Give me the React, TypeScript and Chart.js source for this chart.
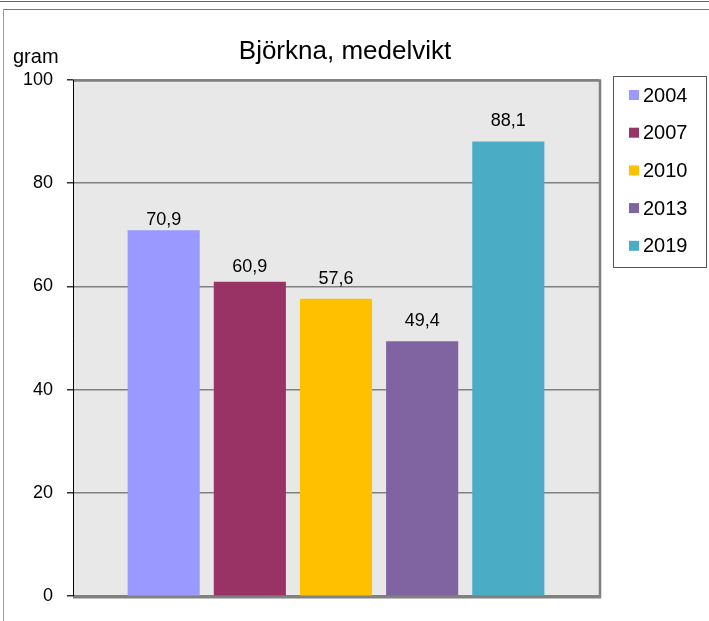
import React, { useEffect, useRef } from "react";
import { Chart, registerables } from "chart.js";

Chart.register(...registerables);

const title = "Björkna, medelvikt";
const yAxisUnit = "gram";
const seriesLabels = ["2004", "2007", "2010", "2013", "2019"];
const seriesValues = [70.9, 60.9, 57.6, 49.4, 88.1];
const seriesColors = ["#9999FF", "#993366", "#FFC000", "#8064A2", "#4BACC6"];
const categories = [""];
const yTicks = [0, 20, 40, 60, 80, 100];

const FONT = '"Liberation Sans", Arial, sans-serif';
const labelGaps = [5, 10, 15, 15, 15];

const decorPlugin = {
  id: "decor",
  beforeDraw(chart: any) {
    const { ctx, chartArea: a } = chart;
    ctx.save();
    ctx.fillStyle = "#E8E8E8";
    ctx.fillRect(a.left, a.top, a.right - a.left, a.bottom - a.top);
    ctx.restore();
  },
  afterDatasetsDraw(chart: any) {
    const { ctx, chartArea: a } = chart;
    ctx.save();
    ctx.strokeStyle = "#808080";
    ctx.lineWidth = 2.5;
    ctx.beginPath();
    ctx.moveTo(a.left, a.top + 0.5);
    ctx.lineTo(a.right + 1, a.top + 0.5);
    ctx.lineTo(a.right + 1, a.bottom + 1);
    ctx.lineTo(a.left, a.bottom + 1);
    ctx.stroke();
    ctx.strokeStyle = "#000";
    ctx.lineWidth = 1;
    ctx.beginPath();
    ctx.moveTo(a.left + 0.5, a.top);
    ctx.lineTo(a.left + 0.5, a.bottom);
    ctx.stroke();

    ctx.fillStyle = "#000";
    ctx.font = `18px ${FONT}`;
    ctx.textAlign = "center";
    ctx.textBaseline = "alphabetic";
    chart.data.datasets.forEach((ds: any, i: number) => {
      const meta = chart.getDatasetMeta(i);
      meta.data.forEach((el: any, j: number) => {
        const v = ds.data[j];
        const txt = String(v).replace(".", ",");
        ctx.fillText(txt, el.x, el.y - labelGaps[i]);
      });
    });

    ctx.font = `26px ${FONT}`;
    ctx.textAlign = "center";
    ctx.fillText(title, 345, 59);
    ctx.font = `20px ${FONT}`;
    ctx.textAlign = "left";
    ctx.fillText(yAxisUnit, 13, 63);

    const lx = 613, ly = 76, lw = 93, lh = 191;
    ctx.strokeStyle = "#555";
    ctx.lineWidth = 1;
    ctx.strokeRect(lx + 0.5, ly + 0.5, lw, lh);
    ctx.font = `20px ${FONT}`;
    ctx.textBaseline = "middle";
    seriesLabels.forEach((lab, i) => {
      const cy = 95 + i * 37.7;
      ctx.fillStyle = seriesColors[i];
      ctx.fillRect(629, cy - 5, 10, 10);
      ctx.fillStyle = "#000";
      ctx.fillText(lab, 643, cy + 1);
    });
    ctx.restore();
  },
};

export default function App() {
  const ref = useRef<HTMLCanvasElement>(null);
  useEffect(() => {
    if (!ref.current) return;
    const chart = new Chart(ref.current, {
      type: "bar",
      data: {
        labels: categories,
        datasets: seriesLabels.map((lab, i) => ({
          label: lab,
          data: [seriesValues[i]],
          backgroundColor: seriesColors[i],
          borderWidth: 0,
          categoryPercentage: 0.819,
          barPercentage: 0.837,
        })),
      },
      options: {
        animation: false,
        responsive: false,
        maintainAspectRatio: false,
        devicePixelRatio: 1,
        layout: { padding: { left: 0, top: 80, right: 110, bottom: 22 } },
        plugins: { legend: { display: false }, tooltip: { enabled: false }, title: { display: false } },
        scales: {
          x: { display: false },
          y: {
            min: 0,
            max: 100,
            afterFit(scale: any) {
              scale.width = 73;
            },
            afterBuildTicks(scale: any) {
              scale.ticks = yTicks.map((v) => ({ value: v }));
            },
            ticks: {
              font: { family: FONT, size: 18 },
              color: "#000",
              padding: 14,
            },
            grid: {
              color: "#808080",
              lineWidth: 1.5,
              tickLength: 6,
              tickColor: "#333",
            },
            border: { display: false },
          },
        },
      },
      plugins: [decorPlugin],
    });
    return () => chart.destroy();
  }, []);

  return (
    <div style={{ position: "fixed", left: 0, top: 0, width: 709, height: 621, background: "#fff" }}>
      <div style={{ position: "absolute", left: 0, top: 1, width: 709, height: 1, background: "#666" }} />
      <div style={{ position: "absolute", left: 3, top: 9, width: 706, height: 1, background: "#777" }} />
      <div style={{ position: "absolute", left: 3, top: 9, width: 1, height: 612, background: "#999" }} />
      <canvas ref={ref} width={709} height={621} style={{ position: "absolute", left: 0, top: 0, width: 709, height: 621 }} />
    </div>
  );
}
